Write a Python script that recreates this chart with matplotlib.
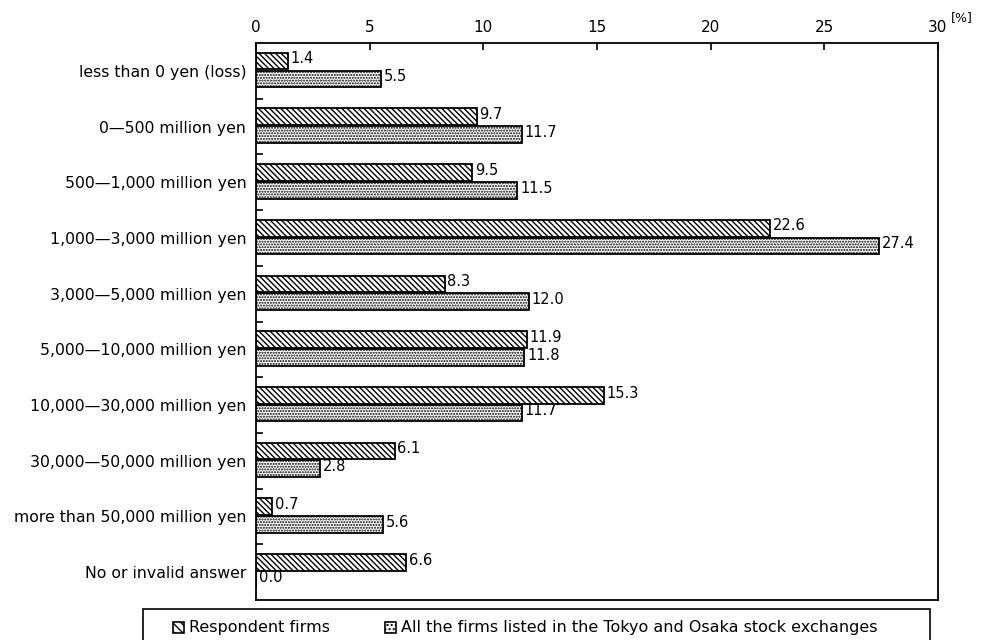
import numpy as np
import matplotlib.pyplot as plt
from matplotlib.patches import Rectangle

# data
categories = ['less than 0 yen (loss)', '0\u2014500 million yen', '500\u20141,000 million yen',
              '1,000\u20143,000 million yen', '3,000\u20145,000 million yen',
              '5,000\u201410,000 million yen', '10,000\u201430,000 million yen',
              '30,000\u201450,000 million yen', 'more than 50,000 million yen',
              'No or invalid answer']
respondent = [1.4, 9.7, 9.5, 22.6, 8.3, 11.9, 15.3, 6.1, 0.7, 6.6]
listed = [5.5, 11.7, 11.5, 27.4, 12.0, 11.8, 11.7, 2.8, 5.6, 0.0]
series_names = ['Respondent firms',
                'All the firms listed in the Tokyo and Osaka stock exchanges']
hatches = ['\\\\\\\\\\\\', '......']

plt.rcParams['font.family'] = ['DejaVu Sans']
plt.rcParams['hatch.linewidth'] = 1.0

fig = plt.figure(figsize=(9.97, 6.4), dpi=100)
ax = fig.add_axes([0.2568, 0.0625, 0.684, 0.8703])

y = np.arange(len(categories))
h = 0.3
b1 = ax.barh(y - 0.175, respondent, height=h, color='white', edgecolor='black',
             hatch=hatches[0], linewidth=1.3)
b2 = ax.barh(y + 0.145, listed, height=h, color='white', edgecolor='black',
             hatch=hatches[1], linewidth=1.3)

for bars, vals in ((b1, respondent), (b2, listed)):
    for bar, v in zip(bars, vals):
        ax.text(v + 0.12, bar.get_y() + bar.get_height() / 2 - 0.04, f'{v:.1f}',
                va='center', ha='left', fontsize=10.5)

ax.set_xlim(0, 30)
ax.set_ylim(len(categories) - 0.5, -0.5)
ax.xaxis.tick_top()
ax.set_xticks(range(0, 31, 5))
ax.tick_params(axis='x', direction='in', length=5, width=1.2, labelsize=11, pad=6)
ax.set_yticks(y)
ax.set_yticklabels(categories, fontsize=11.3)
ax.set_yticks(np.arange(0.5, len(categories) - 1, 1), minor=True)
ax.tick_params(axis='y', which='major', length=0, pad=7)
ax.tick_params(axis='y', which='minor', direction='in', length=5, width=1.2)
for s in ax.spines.values():
    s.set_linewidth(1.3)

fig.text(0.965, 0.972, '[%]', fontsize=9, ha='center', va='center')

# legend box drawn by hand to match the reference layout
fig.add_artist(Rectangle((0.1434, -0.02), 0.7894, 0.0684, transform=fig.transFigure,
                         fill=False, edgecolor='black', linewidth=1.2, clip_on=False))
for xp, name, hp in zip([0.1735, 0.386], series_names, ['\\\\\\\\', '....']):
    fig.add_artist(Rectangle((xp, 0.0203 - 0.0086), 0.011, 0.0172,
                             transform=fig.transFigure, facecolor='white',
                             edgecolor='black', hatch=hp, linewidth=1.2))
    fig.text(xp + 0.016, 0.0203, name, fontsize=11.5, ha='left', va='center')

fig.savefig('out.png', dpi=100)
